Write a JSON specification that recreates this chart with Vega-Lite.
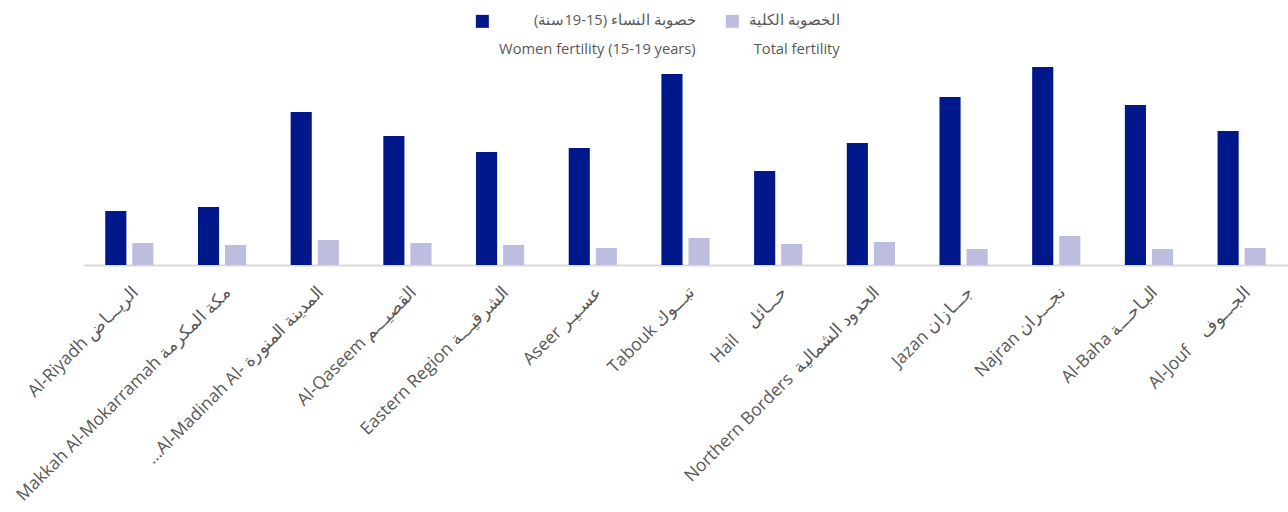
{
  "$schema": "https://vega.github.io/schema/vega-lite/v6.json",
  "width": 1205,
  "height": 200,
  "autosize": "none",
  "padding": {"left": 83, "top": 65, "right": 0, "bottom": 247},
  "background": "white",
  "config": {
    "view": {"stroke": null},
    "font": "Open Sans",
    "style": {"guide-label": {"lineHeight": 29}},
    "legend": {
      "title": null,
      "orient": "none",
      "direction": "horizontal",
      "symbolType": "square",
      "symbolSize": 169,
      "symbolStrokeWidth": 0,
      "labelFontSize": 14.7,
      "labelColor": "#595959",
      "labelAlign": "right",
      "padding": 0,
      "labelLimit": 300
    }
  },
  "data": {
    "values": [
      {"region": "Al-Riyadh الريـــاض", "series": "Women", "value": 54},
      {"region": "Al-Riyadh الريـــاض", "series": "Total", "value": 22},
      {"region": "Makkah Al-Mokarramah مكة المكرمة", "series": "Women", "value": 58},
      {"region": "Makkah Al-Mokarramah مكة المكرمة", "series": "Total", "value": 20},
      {"region": "…Al-Madinah Al- المدينة المنورة", "series": "Women", "value": 153},
      {"region": "…Al-Madinah Al- المدينة المنورة", "series": "Total", "value": 25},
      {"region": "Al-Qaseem القصيـــم", "series": "Women", "value": 129},
      {"region": "Al-Qaseem القصيـــم", "series": "Total", "value": 22},
      {"region": "Eastern Region الشرقيـــة", "series": "Women", "value": 113},
      {"region": "Eastern Region الشرقيـــة", "series": "Total", "value": 20},
      {"region": "Aseer عسـيـر", "series": "Women", "value": 117},
      {"region": "Aseer عسـيـر", "series": "Total", "value": 17},
      {"region": "Tabouk تبـــوك", "series": "Women", "value": 191},
      {"region": "Tabouk تبـــوك", "series": "Total", "value": 27},
      {"region": "Hail\u00a0\u00a0\u00a0 حـــائل", "series": "Women", "value": 94},
      {"region": "Hail\u00a0\u00a0\u00a0 حـــائل", "series": "Total", "value": 21},
      {"region": "Northern Borders\u00a0 الحدود الشمالية", "series": "Women", "value": 122},
      {"region": "Northern Borders\u00a0 الحدود الشمالية", "series": "Total", "value": 23},
      {"region": "Jazan جـــازان", "series": "Women", "value": 168},
      {"region": "Jazan جـــازان", "series": "Total", "value": 16},
      {"region": "Najran نجـــران", "series": "Women", "value": 198},
      {"region": "Najran نجـــران", "series": "Total", "value": 29},
      {"region": "Al-Baha البـاحـــة", "series": "Women", "value": 160},
      {"region": "Al-Baha البـاحـــة", "series": "Total", "value": 16},
      {"region": "Al-Jouf\u00a0\u00a0\u00a0 الجـــوف", "series": "Women", "value": 134},
      {"region": "Al-Jouf\u00a0\u00a0\u00a0 الجـــوف", "series": "Total", "value": 17}
    ]
  },
  "encoding": {
    "x": {
      "field": "region",
      "type": "nominal",
      "sort": null,
      "scale": {"paddingInner": 0.48, "paddingOuter": 0.24},
      "axis": {
        "title": null,
        "labelAngle": -45,
        "ticks": false,
        "domainColor": "#d9d9d9",
        "domainWidth": 2,
        "labelColor": "#595959",
        "labelFontSize": 17.5,
        "labelPadding": 18,
        "labelLimit": 400
      }
    },
    "xOffset": {
      "field": "series",
      "type": "nominal",
      "sort": ["Women", "Total"],
      "scale": {"domain": ["Women", "Total"], "paddingInner": 0.22, "paddingOuter": 0}
    },
    "y": {
      "field": "value",
      "type": "quantitative",
      "scale": {"domain": [0, 200]},
      "axis": null
    }
  },
  "layer": [
    {
      "transform": [{"filter": "datum.series == 'Women'"}],
      "mark": {"type": "bar"},
      "encoding": {
        "color": {
          "field": "series",
          "type": "nominal",
          "scale": {"domain": ["Women"], "range": ["#00188A"]},
          "legend": {
            "legendX": 392,
            "legendY": -51,
            "labelOffset": 206,
            "labelExpr": "['\u200fخصوبة النساء (15-19سنة)\u200f', 'Women fertility (15-19 years)']"
          }
        }
      }
    },
    {
      "transform": [{"filter": "datum.series == 'Total'"}],
      "mark": {"type": "bar"},
      "encoding": {
        "color": {
          "field": "series",
          "type": "nominal",
          "scale": {"domain": ["Total"], "range": ["#BDBDE0"]},
          "legend": {
            "legendX": 642,
            "legendY": -51,
            "labelOffset": 100,
            "labelExpr": "['الخصوبة الكلية', 'Total fertility']"
          }
        }
      }
    }
  ],
  "resolve": {"scale": {"color": "independent"}, "legend": {"color": "independent"}}
}
